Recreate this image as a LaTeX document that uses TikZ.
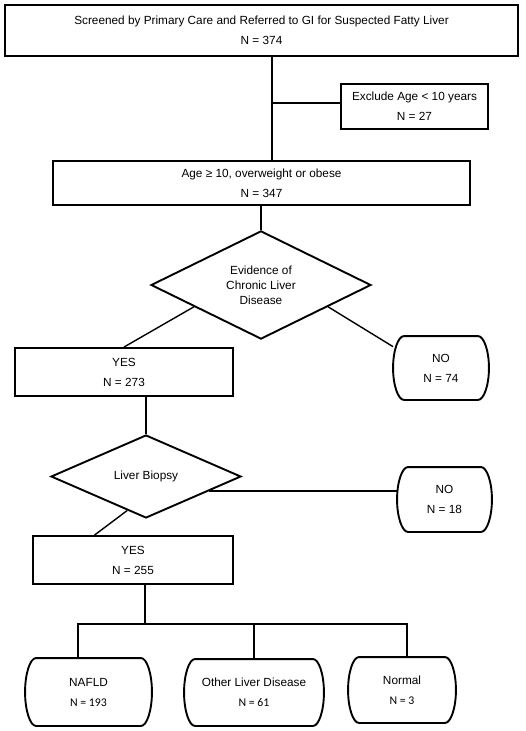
\documentclass[tikz,border=0pt]{standalone}
\usepackage{fontspec}
\setmainfont{Liberation Sans}
\newfontfamily\calibri{Carlito}
\usepackage{tikz}
\usetikzlibrary{shapes.geometric}

\begin{document}
\begin{tikzpicture}[x=1pt, y=-1pt,
    flowbox/.style={draw, line width=1.9pt, rectangle, align=center, inner sep=0pt, font=\fontsize{11.8}{20}\selectfont},
    endbox/.style={flowbox, draw=none},
    endline/.style={line width=1.9pt},
    choice/.style={draw, line width=1.9pt, diamond, align=center, inner sep=0pt, font=\fontsize{11.8}{15}\selectfont},
    link/.style={line width=1.4pt}]

\useasboundingbox (0,0) rectangle (525,731);

% Referral and age screening
\node[flowbox, minimum width=513pt, minimum height=51pt] (screen) at (261.5,30.5) {Screened by Primary Care and Referred to GI for Suspected Fatty Liver\\N = 374};
\node[flowbox, minimum width=147pt, minimum height=45pt] (exclude) at (414.5,106.5) {Exclude Age < 10 years\\N = 27};
\node[flowbox, minimum width=417pt, minimum height=44pt] (eligible) at (261.5,183) {Age ≥ 10, overweight or obese\\N = 347};

% Chronic liver disease decision
\node[choice, minimum width=220pt, minimum height=107pt] (chronic) at (261,285) {Evidence of\\Chronic Liver\\Disease};
\node[flowbox, minimum width=218pt, minimum height=48pt] (yesA) at (124,372) {YES\\N = 273};
\node[endbox, minimum width=94pt, minimum height=62pt] (noA) at (441,368) {NO\\N = 74};

% Biopsy decision
\node[choice, minimum width=190pt, minimum height=83pt] (biopsy) at (146,476.5) {Liver Biopsy};
\node[endbox, minimum width=93pt, minimum height=63pt] (noB) at (444.5,499.5) {NO\\N = 18};
\node[flowbox, minimum width=200pt, minimum height=48pt] (yesB) at (133,560) {YES\\N = 255};

% Biopsy results
\node[endbox, minimum width=125pt, minimum height=66pt] (nafld) at (88.5,692) {NAFLD\\{\calibri N = 193}};
\node[endbox, minimum width=138pt, minimum height=65pt] (other) at (254,692.5) {Other Liver Disease\\{\calibri N = 61}};
\node[endbox, minimum width=106pt, minimum height=64pt] (normal) at (402,690) {Normal\\{\calibri N = 3}};

% Outlines of the end boxes (half-ellipse sides)
\foreach \n/\h in {noA/31, noB/31.5, nafld/33, other/32.5, normal/32} {
    \draw[endline] ([xshift=11pt]\n.north west) -- ([xshift=-11pt]\n.north east)
        .. controls +(6,0) and +(0,-0.552*\h) .. (\n.east)
        .. controls +(0,0.552*\h) and +(6,0) .. ([xshift=-11pt]\n.south east)
        -- ([xshift=11pt]\n.south west)
        .. controls +(-6,0) and +(0,0.552*\h) .. (\n.west)
        .. controls +(0,-0.552*\h) and +(-6,0) .. ([xshift=11pt]\n.north west) -- cycle;
}

% Connectors
\coordinate (excl) at (272,103);
\draw[link] (screen.south -| excl) -- (excl |- eligible.north);
\draw[link] (excl) -- (excl -| exclude.west);
\draw[link] (eligible.south -| chronic.north) -- (chronic.north);
\draw[link] (chronic.198) -- (yesA.north);
\draw[link] (chronic.342) -- (noA.156);
\draw[link] (yesA.south -| biopsy.north) -- (biopsy.north);
\draw[link] (biopsy.347) -- (biopsy.347 -| noB.west);
\draw[link] (biopsy.241) -- (yesB.147);

\coordinate (split) at (145,624);
\coordinate (dropA) at (78,624);
\coordinate (dropC) at (407,624);
\draw[link] (yesB.south -| split) -- (split);
\draw[link] (dropA |- nafld.north) -- (dropA) -- (dropC) -- (dropC |- normal.north);
\draw[link] (other.north) -- (other.north |- split);

\end{tikzpicture}
\end{document}
